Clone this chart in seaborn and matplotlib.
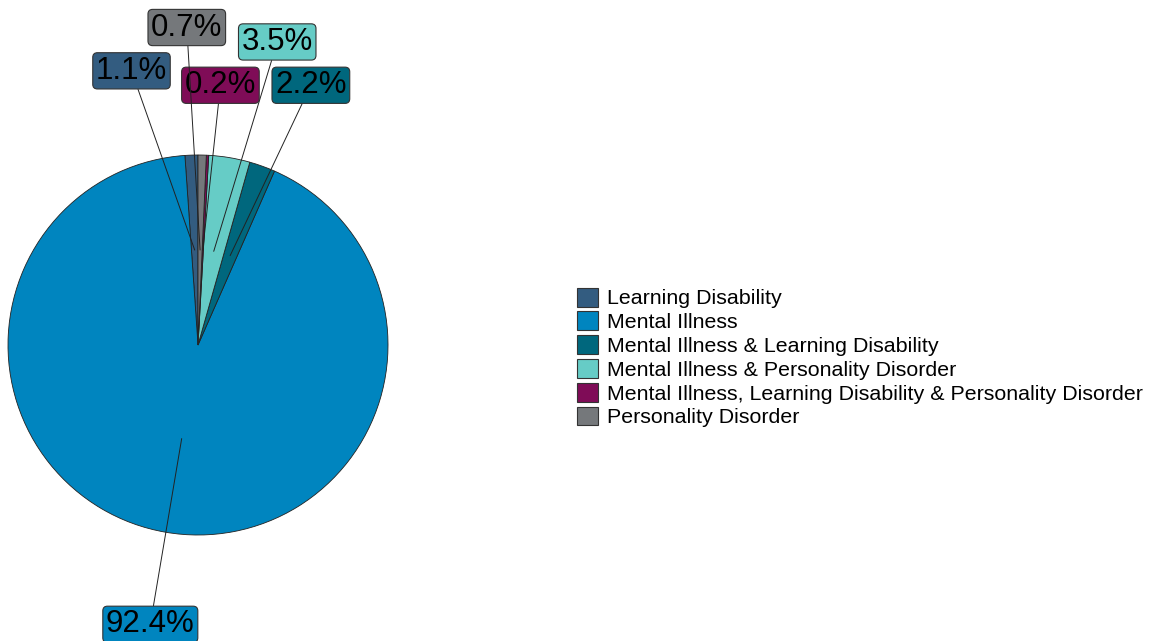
import matplotlib
matplotlib.use("Agg")
import matplotlib.pyplot as plt
from matplotlib.patches import Patch
import numpy as np
import seaborn as sns

categories = ["Learning Disability", "Mental Illness",
              "Mental Illness & Learning Disability",
              "Mental Illness & Personality Disorder",
              "Mental Illness, Learning Disability & Personality Disorder",
              "Personality Disorder"]
values = [1.1, 92.4, 2.2, 3.5, 0.2, 0.7]
colors = ["#335C80", "#0085BF", "#00677D", "#66CCC6", "#7F0C57", "#75787B"]
# label box centres (pie-radius units, relative to pie centre)
label_pos = [(-0.35, 1.443), (-0.251, -1.47), (0.594, 1.367),
             (0.417, 1.595), (0.118, 1.367), (-0.059, 1.671)]

sns.set_theme(style="white")
plt.rcParams["font.family"] = ["Liberation Sans", "DejaVu Sans"]

W, H = 1154, 641
fig = plt.figure(figsize=(W / 100, H / 100), dpi=100)
cx, cy, r = 198, 345, 190
ax = fig.add_axes([(cx - r) / W, (H - cy - r) / H, 2 * r / W, 2 * r / H])

wedges, _ = ax.pie(values, colors=colors, startangle=90, counterclock=True,
                   radius=1, wedgeprops=dict(edgecolor="#222222", linewidth=0.6))
ax.set_xlim(-1, 1)
ax.set_ylim(-1, 1)
ax.set_aspect("equal")
ax.axis("off")

for w, v, col, (lx, ly) in zip(wedges, values, colors, label_pos):
    mid = np.deg2rad((w.theta1 + w.theta2) / 2)
    px, py = 0.5 * np.cos(mid), 0.5 * np.sin(mid)
    ax.annotate(f"{v}%", xy=(px, py), xytext=(lx, ly), fontsize=22.5,
                ha="center", va="center", color="black", annotation_clip=False,
                bbox=dict(boxstyle="round,pad=0.1,rounding_size=0.15",
                          fc=col, ec="#333333", lw=0.8),
                arrowprops=dict(arrowstyle="-", color="#222222", lw=0.7,
                                shrinkA=0, shrinkB=0))

handles = [Patch(facecolor=c, edgecolor="#333333", linewidth=0.8) for c in colors]
fig.legend(handles, categories, loc="center left",
           bbox_to_anchor=(577 / W, 1 - 357.5 / H), frameon=False,
           fontsize=15.4, labelcolor="black", handlelength=0.98, handleheight=0.98,
           handletextpad=0.44, labelspacing=0.14, borderpad=0, borderaxespad=0)

fig.savefig("out.png", dpi=100)
